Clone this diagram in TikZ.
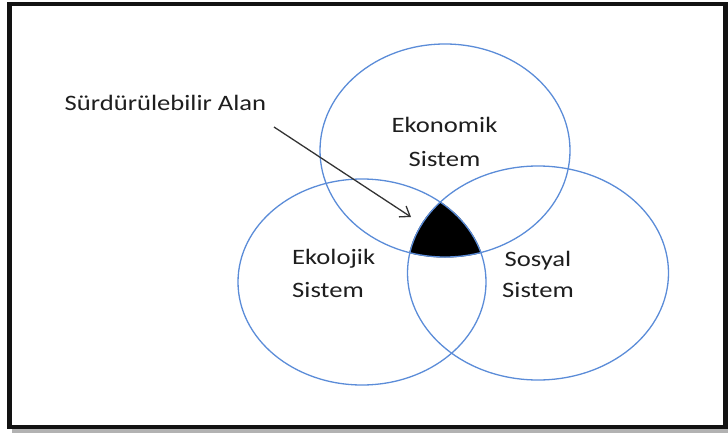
\documentclass[tikz,border=0pt]{standalone}
\usepackage{fontspec}
\usepackage{graphicx}
\setmainfont{Carlito}
\usetikzlibrary{arrows.meta}
\definecolor{ringblue}{HTML}{5B8CD8}
\definecolor{txt}{HTML}{1E1E1E}
\definecolor{arrowgrey}{HTML}{333333}
\newcommand{\wide}[1]{\scalebox{1.21}[1]{#1}}
\begin{document}
\begin{tikzpicture}[x=1pt,y=-1pt,
  ring/.style={draw=ringblue,line width=1.3pt},
  lbl/.style={text=txt,inner sep=0pt,font=\fontsize{22}{34}\selectfont},
  pointer/.style={draw=arrowgrey,line width=1.3pt,-{Straight Barb[length=9pt,width=13pt,line width=1.3pt]}}]
\useasboundingbox (0,0) rectangle (728,433);
% frame with shadow
\fill[black!30] (12,428) rectangle (728,433);
\draw[line width=4.5pt,draw=black!93] (9.5,4) rectangle (725.5,427);
% sustainable area (intersection)
\begin{scope}
  \clip (445,150.5) ellipse [x radius=125.5pt, y radius=107pt];
  \clip (362,282) ellipse [x radius=124.5pt, y radius=103.5pt];
  \fill[black] (538,273) ellipse [x radius=131pt, y radius=107.5pt];
\end{scope}
% rings
\draw[ring] (445,150.5) ellipse [x radius=125pt, y radius=106.5pt];
\draw[ring] (362,282) ellipse [x radius=124pt, y radius=103pt];
\draw[ring] (538,273) ellipse [x radius=130.5pt, y radius=107pt];
% labels
\node[lbl,anchor=base] (sa) at (165.5,111) {\wide{Sürdürülebilir Alan}};
\node[lbl,anchor=base] (eko1) at (444.5,132) {\wide{Ekonomik}};
\node[lbl,anchor=base] (eko2) at (444.5,167) {\wide{Sistem}};
\node[lbl,anchor=base west] (ekl1) at (292,264) {\wide{Ekolojik}};
\node[lbl,anchor=base west] (ekl2) at (292,297) {\wide{Sistem}};
\node[lbl,anchor=base] (sos1) at (538,266) {\wide{Sosyal}};
\node[lbl,anchor=base] (sos2) at (538,297) {\wide{Sistem}};
% arrow
\coordinate (tail) at (274,127);
\coordinate (tip) at (411,217);
\draw[pointer] (tail) -- (tip);
\end{tikzpicture}
\end{document}
